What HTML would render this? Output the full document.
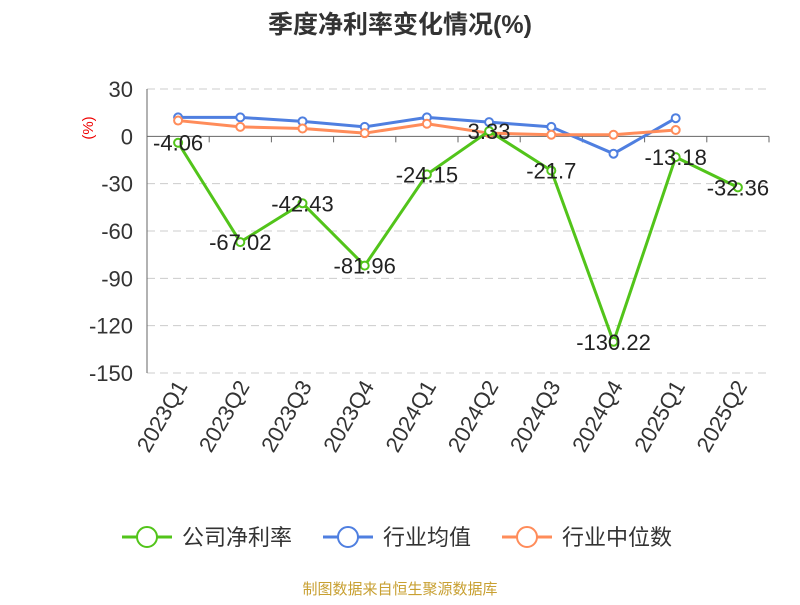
<!DOCTYPE html>
<html><head><meta charset="utf-8"><style>
body{margin:0;background:#fff;font-family:"Liberation Sans","Noto Sans CJK SC",sans-serif}
</style></head><body>
<svg width="800" height="600" id="c" font-family="Liberation Sans, Noto Sans CJK SC, sans-serif">
<text x="400" y="33" text-anchor="middle" font-size="25" font-weight="bold" fill="#333">季度净利率变化情况(%)</text>
<text x="93" y="128" fill="#e00" font-size="15" transform="rotate(-90 93 128)" text-anchor="middle">(%)</text>
<g id="grid"></g><g id="marks"></g>
<g font-size="22" fill="#333">
<g><line x1="122" y1="537" x2="172" y2="537" stroke="#52c41a" stroke-width="3"/><circle cx="147" cy="537" r="10" fill="#fff" stroke="#52c41a" stroke-width="2"/><text x="182" y="545">公司净利率</text></g>
<g><line x1="323" y1="537" x2="373" y2="537" stroke="#4f7fe0" stroke-width="3"/><circle cx="348" cy="537" r="10" fill="#fff" stroke="#4f7fe0" stroke-width="2"/><text x="383" y="545">行业均值</text></g>
<g><line x1="502" y1="537" x2="552" y2="537" stroke="#ff8c5a" stroke-width="3"/><circle cx="527" cy="537" r="10" fill="#fff" stroke="#ff8c5a" stroke-width="2"/><text x="562" y="545">行业中位数</text></g>
</g>
<text x="400" y="594" text-anchor="middle" font-size="15" fill="#c8a032">制图数据来自恒生聚源数据库</text>
</svg>
<script>
const categories=["2023Q1","2023Q2","2023Q3","2023Q4","2024Q1","2024Q2","2024Q3","2024Q4","2025Q1","2025Q2"];
const company=[-4.06,-67.02,-42.43,-81.96,-24.15,3.33,-21.7,-130.22,-13.18,-32.36];
const industryAvg=[12,12,9.5,6,12,9,6,-11,11.5,null];
const industryMedian=[10,6,5,2,8,2,1,1,4,null];
const yTicks=[30,0,-30,-60,-90,-120,-150];
const NS="http://www.w3.org/2000/svg";
const x0=147,x1=769,yTop=89,yBot=373,vMax=30,vMin=-150;
const band=(x1-x0)/categories.length;
const xs=i=>x0+band*(i+0.5);
const ys=v=>yTop+(vMax-v)/(vMax-vMin)*(yBot-yTop);
function mk(tag,attrs,parent){const e=document.createElementNS(NS,tag);for(const k in attrs)e.setAttribute(k,attrs[k]);parent.appendChild(e);return e;}
const grid=document.getElementById('grid'),marks=document.getElementById('marks');
yTicks.forEach(t=>{
 const y=ys(t);
 if(t!==0){const l=mk('line',{x1:x0,x2:x1,y1:y,y2:y,stroke:'#ccc','stroke-dasharray':'8,5'},grid);
 
 }
 const tx=mk('text',{x:x0-14,y:y+8,'text-anchor':'end','font-size':22,fill:'#333'},grid);tx.textContent=t;
 
 
});
const ax=mk('line',{x1:x0,x2:x0,y1:yTop,y2:yBot,stroke:'#666'},grid);


const zx=mk('line',{x1:x0,x2:x1,y1:ys(0),y2:ys(0),stroke:'#666'},grid);


categories.forEach((c,i)=>{
 const tk=mk('line',{x1:x0+band*(i+1),x2:x0+band*(i+1),y1:ys(0),y2:ys(0)+6,stroke:'#666'},grid);
 
 
 const x=xs(i)+10,y=386;
 const t=mk('text',{x:x,y:y,'text-anchor':'end','font-size':22,fill:'#333',transform:`rotate(-60 ${x} ${y})`},grid);t.textContent=c;
 
 
});
function series(vals,color,name,labels){
 const pts=[];vals.forEach((v,i)=>{if(v!==null)pts.push([xs(i),ys(v),v]);});
 const pl=mk('polyline',{points:pts.map(p=>p[0]+','+p[1]).join(' '),fill:'none',stroke:color,'stroke-width':3},marks);
 
 
 pts.forEach(p=>{
  const c=mk('circle',{cx:p[0],cy:p[1],r:4,fill:'#fff',stroke:color,'stroke-width':2},marks);
  
  
  if(labels){const t=mk('text',{x:p[0],y:p[1]+8,'text-anchor':'middle','font-size':22,fill:'#222'},marks);t.textContent=p[2];
  
  }
 });
}
series(industryAvg,'#4f7fe0','industry-avg',false);
series(industryMedian,'#ff8c5a','industry-median',false);
series(company,'#52c41a','company-net-margin',true);
</script>
</body></html>
